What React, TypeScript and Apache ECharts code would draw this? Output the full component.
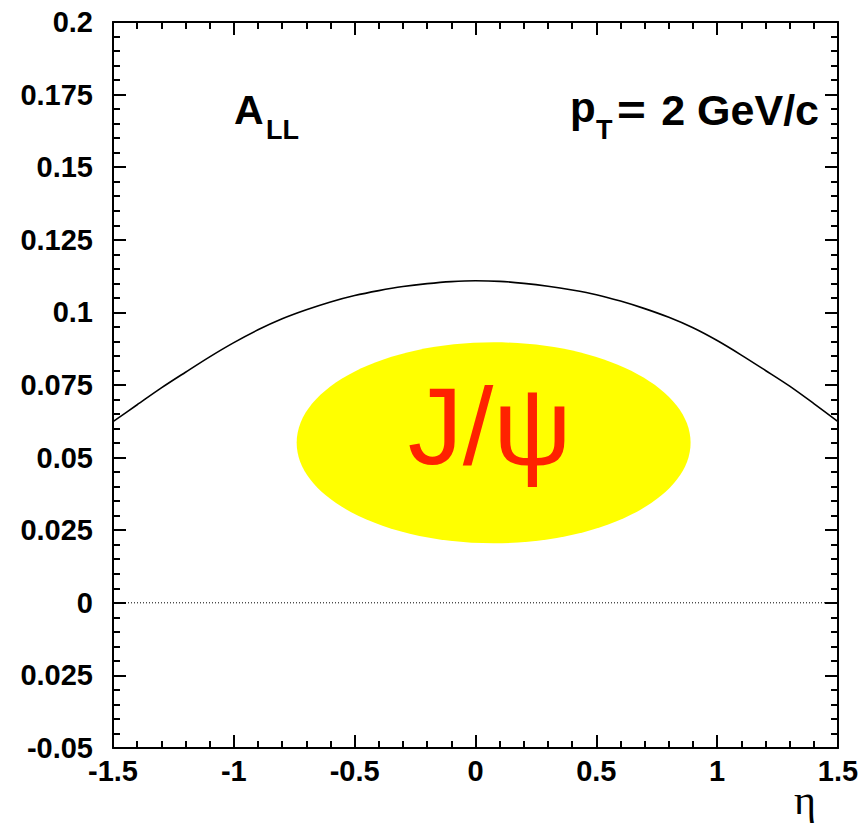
import React, { useEffect, useRef } from "react";
import * as echarts from "echarts";

// Double longitudinal spin asymmetry A_LL vs pseudorapidity at pT = 2 GeV/c
const etaValues = [
  -1.5, -1.4, -1.3, -1.2, -1.1, -1.0, -0.9, -0.8, -0.7, -0.6, -0.5, -0.4, -0.3, -0.2, -0.1,
  0.0, 0.1, 0.2, 0.3, 0.4, 0.5, 0.6, 0.7, 0.8, 0.9, 1.0, 1.1, 1.2, 1.3, 1.4, 1.5,
];
const allValues = [
  0.0624, 0.0682, 0.0740, 0.0794, 0.0847, 0.0896, 0.0940, 0.0978, 0.1009, 0.1036, 0.1058,
  0.1075, 0.1089, 0.1099, 0.1106, 0.1109, 0.1107, 0.1100, 0.1090, 0.1077, 0.1061, 0.1039,
  0.1013, 0.0983, 0.0947, 0.0903, 0.0853, 0.0800, 0.0746, 0.0686, 0.0624,
];

// Highlight ellipse: centre (eta, A_LL) and half-widths (eta, A_LL)
const blobCenter = [0.075, 0.0551];
const blobRadius = [0.815, 0.0346];
const blobLabel = "J/ψ";

const xTickLabels: Record<string, string> = {
  "-1.5": "-1.5", "-1": "-1", "-0.5": "-0.5", "0": "0", "0.5": "0.5", "1": "1", "1.5": "1.5",
};
const yTickLabels: Record<string, string> = {
  "0.2": "0.2", "0.175": "0.175", "0.15": "0.15", "0.125": "0.125", "0.1": "0.1",
  "0.075": "0.075", "0.05": "0.05", "0.025": "0.025", "0": "0", "-0.025": "0.025", "-0.05": "-0.05",
};

const key = (v: number) => String(Math.round(v * 1000) / 1000);

const tickFont = {
  fontFamily: "'Liberation Sans', Arial, Helvetica, sans-serif",
  fontWeight: "bold" as const,
  fontSize: 29,
  color: "#000",
};

export default function App() {
  const ref = useRef<HTMLDivElement>(null);

  useEffect(() => {
    if (!ref.current) return;
    const chart = echarts.init(ref.current, null, { renderer: "svg" });

    const axisCommon = {
      type: "value" as const,
      axisLine: { show: true, onZero: false, lineStyle: { color: "#000", width: 2 } },
      axisTick: { show: true, inside: true, length: 13, lineStyle: { color: "#000", width: 2 } },
      minorTick: { show: true, splitNumber: 5, length: 7, lineStyle: { color: "#000", width: 2 } },
      splitLine: { show: false },
    };

    chart.setOption({
      animation: false,
      backgroundColor: "#fff",
      grid: { left: 113, right: 24, top: 22, bottom: 75, containLabel: false },
      xAxis: [
        {
          ...axisCommon,
          position: "bottom",
          min: -1.5,
          max: 1.5,
          interval: 0.5,
          axisLabel: { ...tickFont, margin: 8, formatter: (v: number) => xTickLabels[key(v)] ?? "" },
        },
        {
          ...axisCommon,
          position: "top",
          min: -1.5,
          max: 1.5,
          interval: 0.5,
          axisLabel: { show: false },
        },
      ],
      yAxis: [
        {
          ...axisCommon,
          position: "left",
          min: -0.05,
          max: 0.2,
          interval: 0.025,
          axisLabel: { ...tickFont, margin: 20, formatter: (v: number) => yTickLabels[key(v)] ?? "" },
        },
        {
          ...axisCommon,
          position: "right",
          min: -0.05,
          max: 0.2,
          interval: 0.025,
          axisLabel: { show: false },
        },
      ],
      series: [
        {
          type: "custom",
          xAxisIndex: 0,
          yAxisIndex: 0,
          z: 1,
          data: [[blobCenter[0], blobCenter[1], blobRadius[0], blobRadius[1]]],
          renderItem: (_params: any, api: any) => {
            const c = api.coord([api.value(0), api.value(1)]);
            const s = api.size([api.value(2), api.value(3)]);
            return {
              type: "group",
              children: [
                {
                  type: "ellipse",
                  shape: { cx: c[0], cy: c[1], rx: s[0], ry: s[1] },
                  style: { fill: "#ffff00" },
                },
                {
                  type: "text",
                  x: c[0] - 4,
                  y: c[1] - 17,
                  style: {
                    text: blobLabel,
                    fill: "#ff2200",
                    fontSize: 110,
                    fontFamily: "'Liberation Sans', Arial, sans-serif",
                    align: "center",
                    verticalAlign: "middle",
                  },
                },
              ],
            };
          },
        },
        {
          type: "line",
          name: "zero",
          data: [[-1.5, 0], [1.5, 0]],
          symbol: "none",
          lineStyle: { color: "#000", width: 1, type: [1, 2] },
          z: 2,
        },
        {
          type: "line",
          name: "A_LL",
          data: etaValues.map((x, i) => [x, allValues[i]]),
          symbol: "none",
          smooth: 0.3,
          lineStyle: { color: "#000", width: 1.6 },
          z: 3,
        },
      ],
      graphic: [
        {
          type: "text",
          x: 234,
          y: 110,
          style: { text: "A", ...boldText(41), verticalAlign: "middle" },
        },
        {
          type: "text",
          x: 266,
          y: 130,
          style: { text: "LL", ...boldText(27), verticalAlign: "middle" },
        },
        {
          type: "text",
          x: 570,
          y: 107,
          style: { text: "p", ...boldText(42), verticalAlign: "middle" },
        },
        {
          type: "text",
          x: 596,
          y: 130,
          style: { text: "T", ...boldText(27), verticalAlign: "middle" },
        },
        {
          type: "text",
          x: 617,
          y: 110,
          scaleX: 1.15,
          style: { text: "=", ...boldText(43), verticalAlign: "middle" },
        },
        {
          type: "text",
          x: 819,
          y: 110,
          style: { text: "2 GeV/c", ...boldText(43), align: "right", verticalAlign: "middle" },
        },
        {
          type: "text",
          x: 816,
          y: 800,
          style: {
            text: "η",
            fill: "#000",
            fontSize: 42,
            lineHeight: 32,
            fontFamily: "'Liberation Serif', 'DejaVu Serif', serif",
            align: "right",
            verticalAlign: "middle",
          },
        },
      ],
    });

    return () => chart.dispose();
  }, []);

  return (
    <div
      ref={ref}
      style={{ position: "absolute", left: 0, top: 0, width: 862, height: 823 }}
    />
  );
}

function boldText(size: number) {
  return {
    fill: "#000",
    fontSize: size,
    fontWeight: "bold" as const,
    fontFamily: "'Liberation Sans', Arial, Helvetica, sans-serif",
  };
}
